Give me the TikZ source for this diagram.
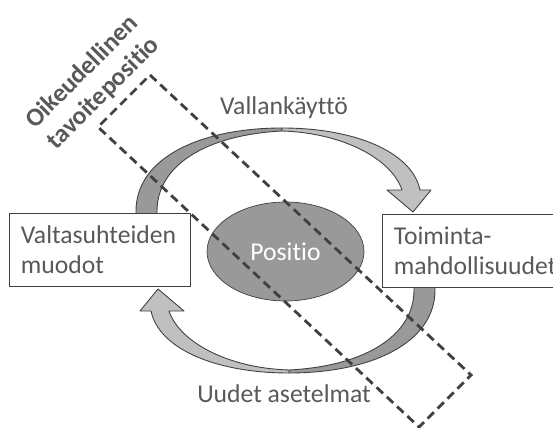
\documentclass[tikz,border=0pt]{standalone}
\usepackage{fontspec}
\setmainfont{Carlito}[Ligatures=NoCommon]
\usetikzlibrary{shapes.geometric}

\definecolor{txtgray}{HTML}{595959}
\definecolor{linegray}{HTML}{404040}
\definecolor{darkface}{HTML}{999999}
\definecolor{lightface}{HTML}{C0C0C0}

\tikzset{
  textbox/.style={draw=linegray, fill=white, text=txtgray, anchor=north west, align=left,
    inner xsep=0.23cm, minimum height=1.46cm},
  bendarrow/.style={draw=linegray, line width=0.5pt, line join=round},
  target/.style={draw=linegray, line width=1.6pt, dash pattern=on 5pt off 3pt},
}

% one curved arrow (drawn twice, second one turned round)
\newcommand{\bentarrow}{%
  \filldraw[bendarrow, fill=darkface] (136,232) -- (136,211) .. controls (136,158) and (200,128) .. (282,128)
    -- (282,131) .. controls (205,135) and (157,166) .. (157,211) -- (157,232) -- cycle;
  \filldraw[bendarrow, fill=lightface] (282,128) .. controls (355,128) and (412,152) .. (420,190)
    -- (431,190) -- (413,212) -- (387,190) -- (402,190) .. controls (392,160) and (345,133) .. (282,131) -- cycle;
}

\begin{document}
\begin{tikzpicture}[x=0.02cm, y=-0.02cm, font=\fontsize{14.6}{17}\selectfont]
        \useasboundingbox (0,0) rectangle (553,428);

        \bentarrow
        \begin{scope}[rotate around={180:(285.5,250.5)}]
            \bentarrow
        \end{scope}

        \node[textbox, text width=3.16cm, minimum width=3.62cm] (muodot) at (9,213) {Valtasuhteiden\\muodot};
        \node[textbox, text width=4.4cm] (toiminta) at (382,214) {Toiminta-\\mahdollisuudet};
        \node[ellipse, draw=linegray, fill=darkface, text=white, minimum width=3.14cm, minimum height=1.98cm] (positio) at (285.5,251.5) {Positio};

        \draw[target] (150,75) -- (471,375) -- (419,427) -- (98,127) -- cycle;

        \node[text=txtgray, anchor=base] (kaytto) at (284,115) {Vallankäyttö};
        \node[text=txtgray, anchor=base] (asetelmat) at (284,402) {Uudet asetelmat};
        \node[rotate=45, font=\fontsize{14.6}{17}\selectfont\bfseries, text=txtgray, align=center] (tavoite) at (93,83) {Oikeudellinen\\tavoitepositio};

    \end{tikzpicture}
\end{document}
